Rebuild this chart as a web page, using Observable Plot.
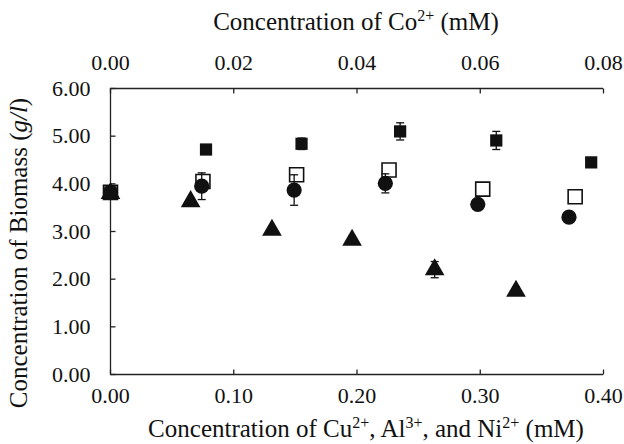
<!DOCTYPE html>
<html>
<head>
<meta charset="utf-8">
<script src="https://cdn.jsdelivr.net/npm/d3@7"></script>
<script src="https://cdn.jsdelivr.net/npm/@observablehq/plot@0.6"></script>
<style>
  body { margin: 0; background: #fff; }
  #chart svg { display: block; font-family: "Liberation Serif", serif; }
  #chart svg text { font-family: "Liberation Serif", serif; }
</style>
</head>
<body>
<div id="chart"></div>
<script>
// ---- data ----
// Co2+ series (filled squares), plotted against the top axis (mM Co2+)
const coConc    = [0, 0.0155, 0.031, 0.047, 0.0626, 0.078];
const coBiomass = [3.82, 4.72, 4.84, 5.10, 4.91, 4.45];
const coErr     = [0.06, 0.05, 0.12, 0.18, 0.19, 0.06];

// open squares (bottom axis)
const openConc    = [0, 0.075, 0.151, 0.226, 0.302, 0.377];
const openBiomass = [3.82, 4.05, 4.19, 4.29, 3.89, 3.73];
const openErr     = [0.04, 0.04, 0.04, 0.04, 0.04, 0.04];

// filled circles (bottom axis)
const circConc    = [0, 0.074, 0.149, 0.223, 0.298, 0.372];
const circBiomass = [3.82, 3.95, 3.87, 4.01, 3.57, 3.30];
const circErr     = [0.05, 0.28, 0.32, 0.20, 0.05, 0.05];

// filled triangles (bottom axis)
const triConc    = [0, 0.065, 0.131, 0.196, 0.263, 0.329];
const triBiomass = [3.80, 3.63, 3.03, 2.82, 2.20, 1.75];
const triErr     = [0.05, 0.05, 0.05, 0.08, 0.17, 0.08];

const bottomTicks = [0, 0.1, 0.2, 0.3, 0.4];
const topTicks    = [0, 0.02, 0.04, 0.06, 0.08];
const yTicks      = [0, 1, 2, 3, 4, 5, 6];
const topToBottom = 5; // 0.08 mM Co2+ on top axis aligns with 0.40 mM on bottom axis

// ---- tables ----
const mk = (xs, ys, es, k = 1) => xs.map((x, i) => ({x: x * k, y: ys[i], e: es[i]}));
const co   = mk(coConc, coBiomass, coErr, topToBottom);
const open = mk(openConc, openBiomass, openErr);
const circ = mk(circConc, circBiomass, circErr);
const tri  = mk(triConc, triBiomass, triErr);

// ---- custom glyphs ----
const tickUp    = {draw(c) { c.moveTo(0, 0); c.lineTo(0, -5); }};
const tickDown  = {draw(c) { c.moveTo(0, 0); c.lineTo(0, 5); }};
const tickRight = {draw(c) { c.moveTo(0, 0); c.lineTo(5, 0); }};
const cap       = {draw(c) { c.moveTo(-4, 0); c.lineTo(4, 0); }};

const ink = "#111";
const axisInk = "#222";
const FONT = "Liberation Serif, serif";

function errMarks(data) {
  return [
    Plot.ruleX(data, {x: "x", y1: d => d.y - d.e, y2: d => d.y + d.e, stroke: ink, strokeWidth: 1.3}),
    Plot.dot(data, {x: "x", y: d => d.y + d.e, symbol: cap, stroke: ink, strokeWidth: 1.3, fill: "none"}),
    Plot.dot(data, {x: "x", y: d => d.y - d.e, symbol: cap, stroke: ink, strokeWidth: 1.3, fill: "none"})
  ];
}

const chart = Plot.plot({
  width: 624,
  height: 444,
  marginLeft: 110,
  marginRight: 21,
  marginTop: 88,
  marginBottom: 70,
  style: {fontFamily: FONT, fontSize: "22px", color: "#111", background: "#fff"},
  x: {domain: [0, 0.4]},
  y: {domain: [0, 6]},
  marks: [
    // frame lines (left, bottom, top)
    Plot.ruleX([0], {stroke: axisInk, strokeWidth: 1.3}),
    Plot.ruleY([0, 6], {stroke: axisInk, strokeWidth: 1.3}),
    // inward ticks
    Plot.dot(bottomTicks, {x: d => d, y: 0, symbol: tickUp, stroke: axisInk, strokeWidth: 1.3}),
    Plot.dot(topTicks, {x: d => d * topToBottom, y: 6, symbol: tickDown, stroke: axisInk, strokeWidth: 1.3}),
    Plot.dot(yTicks, {x: 0, y: d => d, symbol: tickRight, stroke: axisInk, strokeWidth: 1.3}),
    // tick labels
    Plot.axisX(bottomTicks, {anchor: "bottom", tickSize: 0, tickPadding: 13, tickFormat: d => d.toFixed(2), label: null, fontSize: 22, fontFamily: FONT}),
    Plot.axisX(topTicks.map(d => d * topToBottom), {anchor: "top", tickSize: 0, tickPadding: 19, tickFormat: d => (d / topToBottom).toFixed(2), label: null, fontSize: 22, fontFamily: FONT}),
    Plot.axisY(yTicks, {anchor: "left", tickSize: 0, tickPadding: 20, tickFormat: d => d.toFixed(2), label: null, fontSize: 22, fontFamily: FONT}),
    // markers
    Plot.dot(tri,  {x: "x", y: "y", symbol: "triangle", r: 7.3, fill: ink, stroke: "none"}),
    Plot.dot(circ, {x: "x", y: "y", symbol: "circle", r: 7.6, fill: ink, stroke: "none"}),
    Plot.dot(open, {x: "x", y: "y", symbol: "square", r: 7.9, fill: "none", stroke: ink, strokeWidth: 1.6}),
    Plot.dot(co,   {x: "x", y: "y", symbol: "square", r: 6.9, fill: ink, stroke: "none"}),
    // error bars
    ...errMarks(tri),
    ...errMarks(circ),
    ...errMarks(co)
  ]
});

document.getElementById("chart").appendChild(chart);

// ---- axis titles with superscripts ----
const svg = d3.select(chart);
function title(parts, transform, size) {
  const t = svg.append("text")
    .attr("transform", transform)
    .attr("text-anchor", "middle")
    .attr("fill", "#111")
    .attr("font-family", FONT)
    .attr("font-size", size);
  let shifted = false;
  for (const p of parts) {
    const s = t.append("tspan").text(p.t);
    if (p.sup) {
      s.attr("font-size", Math.round(size * 0.64)).attr("dy", -size * 0.36);
      shifted = true;
    } else if (shifted) {
      s.attr("dy", size * 0.36);
      shifted = false;
    }
    if (p.it) s.attr("font-style", "italic");
  }
}
title([{t: "Concentration of Co"}, {t: "2+", sup: true}, {t: " (mM)"}], "translate(356,30)", 25);
title([{t: "Concentration of Cu"}, {t: "2+", sup: true}, {t: ", Al"}, {t: "3+", sup: true}, {t: ", and Ni"}, {t: "2+", sup: true}, {t: " (mM)"}], "translate(366,437)", 25);
title([{t: "Concentration of Biomass ("}, {t: "g/l", it: true}, {t: ")"}], "translate(27,253) rotate(-90)", 25);
</script>
</body>
</html>
